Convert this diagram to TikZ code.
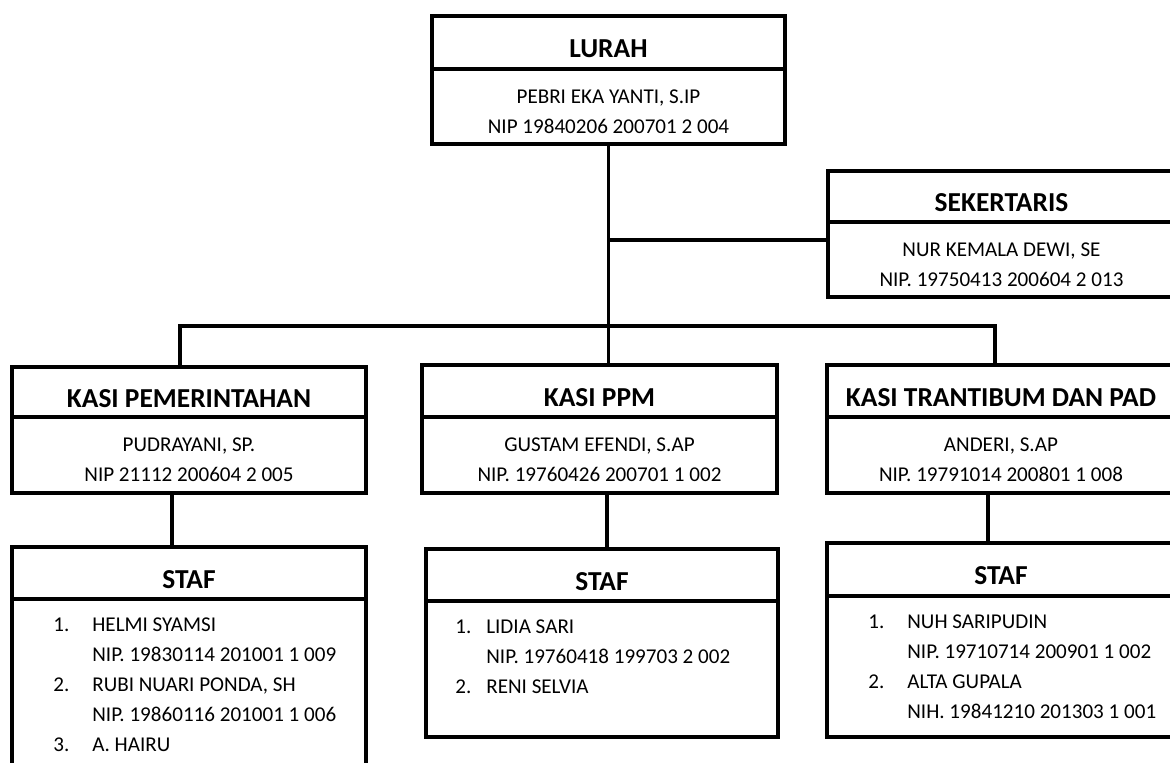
\documentclass[tikz,border=0pt]{standalone}
\usepackage{fontspec}
\setmainfont{Carlito}
\usetikzlibrary{positioning}

% strut that pushes the two body lines a little down
\newcommand{\bodystrut}{\rule{0pt}{13.5pt}}

\tikzset{
  headbox/.style={draw, line width=1.9pt, anchor=north west, inner sep=0pt, outer sep=0pt,
    text height=17.5pt, text depth=0pt, font=\bfseries\fontsize{15.6}{18}\selectfont},
  bodybox/.style={draw, line width=1.9pt, anchor=north, inner sep=0pt, outer sep=0pt,
    align=center, font=\fontsize{12}{17.07}\selectfont},
  listtext/.style={anchor=north west, inner sep=0pt, font=\fontsize{12}{17.07}\selectfont},
  link/.style={line width=1.9pt}
}

\begin{document}
\begin{tikzpicture}[x=0.02cm,y=-0.02cm]
      % page size of the chart
      \useasboundingbox (0,0) rectangle (1170,762);
      \clip (0,0) rectangle (1170,762);

      % top: lurah and sekertaris
      \node[headbox, minimum width=7.06cm, minimum height=1.06cm] (lurahhead) at (432,16) {LURAH};
      \node[bodybox, minimum width=7.06cm, minimum height=1.5cm] (lurahbody) at (lurahhead.south)
        {\bodystrut PEBRI EKA YANTI, S.IP\\NIP 19840206 200701 2 004};

      \node[headbox, minimum width=6.94cm, minimum height=1.02cm] (sekhead) at (828,171) {SEKERTARIS};
      \node[bodybox, minimum width=6.94cm, minimum height=1.5cm] (sekbody) at (sekhead.south)
        {\bodystrut NUR KEMALA DEWI, SE\\NIP. 19750413 200604 2 013};

      % kasi row
      \node[headbox, minimum width=7.08cm, minimum height=1.0cm] (kpemhead) at (12,367) {KASI PEMERINTAHAN};
      \node[bodybox, minimum width=7.08cm, minimum height=1.52cm] (kpembody) at (kpemhead.south)
        {\bodystrut PUDRAYANI, SP.\\NIP 21112 200604 2 005};

      \node[headbox, minimum width=7.1cm, minimum height=1.04cm] (kppmhead) at (422,365) {KASI PPM};
      \node[bodybox, minimum width=7.1cm, minimum height=1.52cm] (kppmbody) at (kppmhead.south)
        {\bodystrut GUSTAM EFENDI, S.AP\\NIP. 19760426 200701 1 002};

      \node[headbox, minimum width=6.96cm, minimum height=1.04cm] (ktrahead) at (827,365) {KASI TRANTIBUM DAN PAD};
      \node[bodybox, minimum width=6.96cm, minimum height=1.52cm] (ktrabody) at (ktrahead.south)
        {\bodystrut ANDERI, S.AP\\NIP. 19791014 200801 1 008};

      % staf row
      \node[headbox, minimum width=7.08cm, minimum height=1.04cm] (staf1head) at (12,547) {STAF};
      \node[bodybox, minimum width=7.08cm, minimum height=4.22cm] (staf1body) at (staf1head.south) {};
      \node[listtext] (staf1list) at (53,610) {\begin{tabular}{@{}p{0.78cm}@{}l@{}}
        1. & HELMI SYAMSI\\
           & NIP. 19830114 201001 1 009\\
        2. & RUBI NUARI PONDA, SH\\
           & NIP. 19860116 201001 1 006\\
        3. & A. HAIRU
        \end{tabular}};

      \node[headbox, minimum width=7.04cm, minimum height=1.04cm] (staf2head) at (426,549) {STAF};
      \node[bodybox, minimum width=7.04cm, minimum height=2.72cm] (staf2body) at (staf2head.south) {};
      \node[listtext] (staf2list) at (455,612) {\begin{tabular}{@{}p{0.62cm}@{}l@{}}
        1. & LIDIA SARI\\
           & NIP. 19760418 199703 2 002\\
        2. & RENI SELVIA
        \end{tabular}};

      \node[headbox, minimum width=6.96cm, minimum height=1.06cm] (staf3head) at (827,543) {STAF};
      \node[bodybox, minimum width=6.96cm, minimum height=2.82cm] (staf3body) at (staf3head.south) {};
      \node[listtext] (staf3list) at (868,607) {\begin{tabular}{@{}p{0.78cm}@{}l@{}}
        1. & NUH SARIPUDIN\\
           & NIP. 19710714 200901 1 002\\
        2. & ALTA GUPALA\\
           & NIH. 19841210 201303 1 001
        \end{tabular}};

      % joints of the lines
      \coordinate (sekjoin) at (0,240);
      \coordinate (busleft) at (180,326);
      \coordinate (busright) at (995,326);
      \coordinate (drop1) at (172,0);
      \coordinate (drop2) at (607,0);
      \coordinate (drop3) at (988,0);

      % lines
      \draw[link] (lurahbody.south) -- (kppmhead.north -| lurahbody.south);
      \draw[link] (lurahbody.south |- sekjoin) -- (sekbody.west |- sekjoin);
      \draw[link] (kpemhead.north -| busleft) -- (busleft) -- (busright) -- (ktrahead.north -| busright);
      \draw[link] (kpembody.south -| drop1) -- (staf1head.north -| drop1);
      \draw[link] (kppmbody.south -| drop2) -- (staf2head.north -| drop2);
      \draw[link] (ktrabody.south -| drop3) -- (staf3head.north -| drop3);
    \end{tikzpicture}
\end{document}
